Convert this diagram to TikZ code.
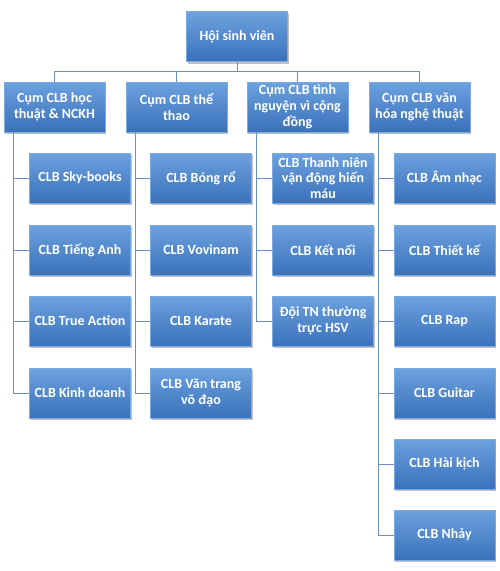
\documentclass[tikz,border=0pt]{standalone}
\usepackage{fontspec}
\setmainfont{Carlito}
\usepackage{xcolor}
\usepackage{tikz}
\usetikzlibrary{positioning, shadows}
\definecolor{HSVtop}{HTML}{6CA2DF}
\definecolor{HSVbot}{HTML}{3A71BA}
\definecolor{HSVedge}{HTML}{7AAAE0}
\definecolor{HSVlink}{HTML}{6A8FC4}

\begin{document}
\begin{tikzpicture}[x=1pt, y=-1pt,
    box/.style={rectangle, draw=HSVedge, line width=0.5pt, top color=HSVtop, bottom color=HSVbot,
      minimum width=101pt, minimum height=50pt, inner sep=2pt, align=center, text=white,
      font=\fontsize{14}{15.8}\selectfont\bfseries,
      drop shadow={shadow xshift=1pt, shadow yshift=-2pt, opacity=0.35, fill=black!70}},
    link/.style={HSVlink, line width=0.9pt}]
        \useasboundingbox (0,0) rectangle (500,571);
        % top
        \node[box] (hsv) at (237,36.5) {Hội sinh viên};
        % clusters
        \node[box] (cum1) at (54.5,107) {Cụm CLB học\\thuật \& NCKH};
        \node[box] (cum2) at (176.5,107) {Cụm CLB thể\\thao};
        \node[box] (cum3) at (297.5,107) {Cụm CLB tình\\nguyện vì cộng\\đồng};
        \node[box] (cum4) at (419.5,107) {Cụm CLB văn\\hóa nghệ thuật};
        \draw[link] (hsv.south) -- ++(0,9.5) -| (cum1.north);
        \draw[link] (hsv.south) -- ++(0,9.5) -| (cum2.north);
        \draw[link] (hsv.south) -- ++(0,9.5) -| (cum3.north);
        \draw[link] (hsv.south) -- ++(0,9.5) -| (cum4.north);
        % hoc thuat
        \node[box] (hoc1) at (80,178) {CLB Sky-books};
        \node[box] (hoc2) at (80,250) {CLB Tiếng Anh};
        \node[box] (hoc3) at (80,321) {CLB True Action};
        \node[box] (hoc4) at (80,393) {CLB Kinh doanh};
        \draw[link] ([xshift=10pt]cum1.south west) |- (hoc1.west);
        \draw[link] ([xshift=10pt]cum1.south west) |- (hoc2.west);
        \draw[link] ([xshift=10pt]cum1.south west) |- (hoc3.west);
        \draw[link] ([xshift=10pt]cum1.south west) |- (hoc4.west);
        % the thao
        \node[box] (tt1) at (201,178) {CLB Bóng rổ};
        \node[box] (tt2) at (201,250) {CLB Vovinam};
        \node[box] (tt3) at (201,321) {CLB Karate};
        \node[box] (tt4) at (201,393) {CLB Văn trang\\võ đạo};
        \draw[link] ([xshift=10pt]cum2.south west) |- (tt1.west);
        \draw[link] ([xshift=10pt]cum2.south west) |- (tt2.west);
        \draw[link] ([xshift=10pt]cum2.south west) |- (tt3.west);
        \draw[link] ([xshift=10pt]cum2.south west) |- (tt4.west);
        % tinh nguyen
        \node[box] (tn1) at (323,178) {CLB Thanh niên\\vận động hiến\\máu};
        \node[box] (tn2) at (323,250) {CLB Kết nối};
        \node[box] (tn3) at (323,321) {Đội TN thường\\trực HSV};
        \draw[link] ([xshift=10pt]cum3.south west) |- (tn1.west);
        \draw[link] ([xshift=10pt]cum3.south west) |- (tn2.west);
        \draw[link] ([xshift=10pt]cum3.south west) |- (tn3.west);
        % van hoa
        \node[box] (vh1) at (444.5,178) {CLB Âm nhạc};
        \node[box] (vh2) at (444.5,250) {CLB Thiết kế};
        \node[box] (vh3) at (444.5,321) {CLB Rap};
        \node[box] (vh4) at (444.5,393) {CLB Guitar};
        \node[box] (vh5) at (444.5,464) {CLB Hài kịch};
        \node[box] (vh6) at (444.5,535) {CLB Nhảy};
        \draw[link] ([xshift=10pt]cum4.south west) |- (vh1.west);
        \draw[link] ([xshift=10pt]cum4.south west) |- (vh2.west);
        \draw[link] ([xshift=10pt]cum4.south west) |- (vh3.west);
        \draw[link] ([xshift=10pt]cum4.south west) |- (vh4.west);
        \draw[link] ([xshift=10pt]cum4.south west) |- (vh5.west);
        \draw[link] ([xshift=10pt]cum4.south west) |- (vh6.west);
\end{tikzpicture}
\end{document}
